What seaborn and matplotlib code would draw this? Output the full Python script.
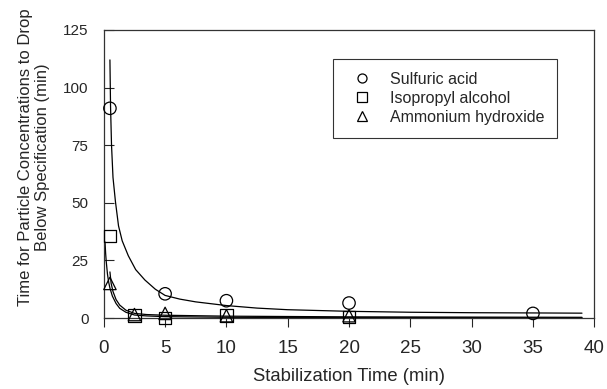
import numpy as np
import pandas as pd
import matplotlib
matplotlib.use("Agg")
import matplotlib.pyplot as plt
import seaborn as sns

# measured points
sulfuric_x = [0.5, 5, 10, 20, 35]
sulfuric_y = [91, 10.5, 7.5, 6.5, 2]
isopropyl_x = [0.5, 2.5, 5, 10, 20]
isopropyl_y = [35.5, 1, 0, 1, 0.5]
ammonium_x = [0.5, 2.5, 5, 10, 20]
ammonium_y = [15, 1.5, 2, 1, 1]

# fitted curves
sulf_curve_x = [0.5, 0.55, 0.63, 0.75, 0.95, 1.2, 1.5, 2.0, 2.6, 3.35, 4.2, 5, 6.2, 7.5, 10, 12.5, 15, 20, 25, 30, 35, 39]
sulf_curve_y = [112, 92, 75, 61, 50.5, 40, 33.5, 27, 21, 16.5, 12.5, 9.8, 8.2, 7, 5.4, 4.3, 3.6, 2.9, 2.5, 2.3, 2.2, 2.1]
iso_curve_x = [0.1, 0.15, 0.2, 0.3, 0.4, 0.5, 0.7, 1.0, 1.3, 1.8, 2.5, 3.5, 5, 10, 20, 39]
iso_curve_y = [33, 28, 24.5, 19, 15.5, 13, 9.5, 6.3, 4.2, 2.5, 1.3, 0.9, 0.6, 0.3, 0.2, 0.1]
amm_curve_x = [0.5, 0.6, 0.75, 1.0, 1.3, 1.8, 2.5, 3.5, 5, 10, 20, 39]
amm_curve_y = [20, 15, 11.5, 8, 5.6, 3.4, 2.0, 1.5, 1.2, 0.8, 0.5, 0.3]

labels = ["Sulfuric acid", "Isopropyl alcohol", "Ammonium hydroxide"]

sns.set_style("ticks")
plt.rcParams["font.family"] = ["Liberation Sans", "DejaVu Sans"]

pts = pd.DataFrame({
    "x": sulfuric_x + isopropyl_x + ammonium_x,
    "y": sulfuric_y + isopropyl_y + ammonium_y,
    "acid": [labels[0]] * 5 + [labels[1]] * 5 + [labels[2]] * 5,
})

fig = plt.figure(figsize=(6.07, 3.89), dpi=100)
ax = fig.add_axes([0.171, 0.1825, 0.808, 0.7405])

for cx, cy in [(sulf_curve_x, sulf_curve_y), (iso_curve_x, iso_curve_y), (amm_curve_x, amm_curve_y)]:
    sns.lineplot(x=cx, y=cy, ax=ax, color="black", linewidth=0.9, sort=False,
                 estimator=None, legend=False)

sns.scatterplot(data=pts, x="x", y="y", style="acid", markers=["o", "s", "^"],
                style_order=labels, ax=ax, s=80, facecolor="none",
                edgecolor="black", linewidth=0.9, zorder=3, clip_on=False)

ax.set_xlim(0, 40)
ax.set_ylim(0, 125)
ax.set_xticks(np.arange(0, 45, 5))
ax.set_yticks(np.arange(0, 150, 25))
ax.tick_params(axis="y", direction="in", length=7.5, width=0.8, labelsize=11, pad=11)
ax.tick_params(axis="x", direction="out", length=6.5, width=0.8, labelsize=13.5, pad=9)
for s in ax.spines.values():
    s.set_linewidth(0.9)
    s.set_color("#333333")

ax.set_xlabel("Stabilization Time (min)", fontsize=13.3, labelpad=8)
ax.set_ylabel("Time for Particle Concentrations to Drop\nBelow Specification (min)",
              fontsize=12, linespacing=1.15)
ax.yaxis.set_label_coords(-0.11, 0.56)

leg = ax.legend(loc="upper right", bbox_to_anchor=(0.9245, 0.899), fontsize=11.5,
                frameon=True, fancybox=False, edgecolor="black",
                handletextpad=0.75, borderpad=0.8, labelspacing=0.25,
                borderaxespad=0, handlelength=2.0)
leg.get_frame().set_linewidth(0.8)
for h in leg.legend_handles:
    h.set_markerfacecolor("none")
    h.set_markeredgecolor("black")
    h.set_markersize(6.5)

fig.savefig("out.png", dpi=100)
